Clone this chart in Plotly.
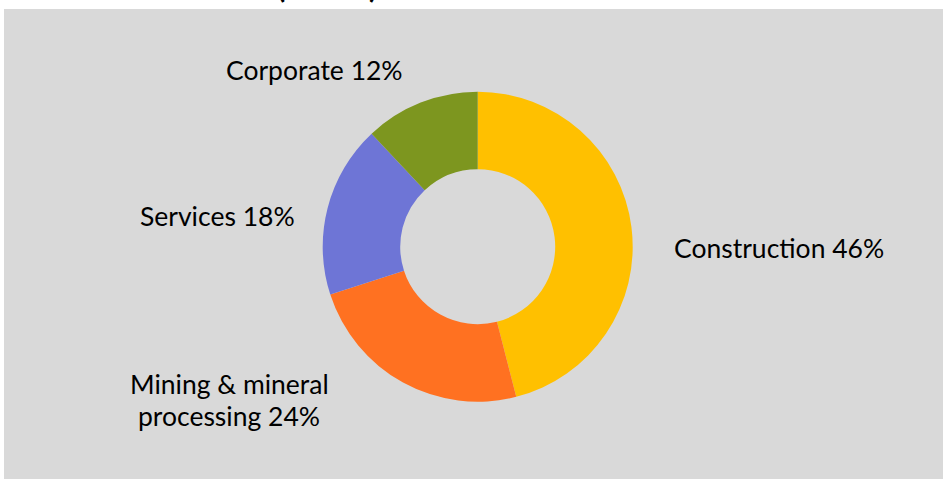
import plotly.graph_objects as go

# Data
segments = ["Construction", "Mining & mineral<br>processing", "Services", "Corporate"]
shares = [46, 24, 18, 12]
colors = ["#FFC000", "#FF7121", "#6E75D6", "#7D961F"]

W, H = 943, 479

# label first-line centres in pixels (layout)
label_pos = [(779, 248), (229, 384), (217, 216), (314, 70)]
LINE_GAP = 32

fig = go.Figure()
fig.add_trace(go.Pie(
    labels=[s.replace("<br>", " ") for s in segments],
    values=shares,
    hole=0.5,
    sort=False,
    direction="clockwise",
    rotation=0,
    marker=dict(colors=colors, line=dict(width=0)),
    textinfo="none",
    hoverinfo="label+percent",
    showlegend=False,
    domain=dict(x=[322.7 / W, 632.7 / W], y=[1 - 401.7 / H, 1 - 91.7 / H]),
))

for seg, val, (px, py) in zip(segments, shares, label_pos):
    lines = f"{seg} {val}%".split("<br>")
    for i, line in enumerate(lines):
        fig.add_annotation(
            x=px / W, y=1 - (py + i * LINE_GAP) / H, xref="paper", yref="paper",
            text=line, showarrow=False,
            xanchor="center", yanchor="middle",
            font=dict(family="Lato", size=26.5, color="#000000"),
        )

# partially visible (cropped) title marks
for ch, px in [("(", 281), (")", 373)]:
    fig.add_annotation(
        x=px / W, y=1, xref="paper", yref="paper",
        text=f"<b>{ch}</b>", showarrow=False,
        xanchor="center", yanchor="bottom", yshift=-6,
        font=dict(family="Lato", size=30, color="#000000"),
    )

fig.update_layout(
    width=W, height=H,
    margin=dict(l=0, r=0, t=0, b=0),
    paper_bgcolor="#D9D9D9",
    plot_bgcolor="#D9D9D9",
    shapes=[
        dict(type="rect", xref="paper", yref="paper", x0=0, x1=1,
             y0=1 - 9 / H, y1=1, fillcolor="white", line=dict(width=0), layer="above"),
        dict(type="rect", xref="paper", yref="paper", x0=0, x1=4 / W,
             y0=0, y1=1, fillcolor="white", line=dict(width=0), layer="above"),
    ],
)

fig.write_html("out.html")
